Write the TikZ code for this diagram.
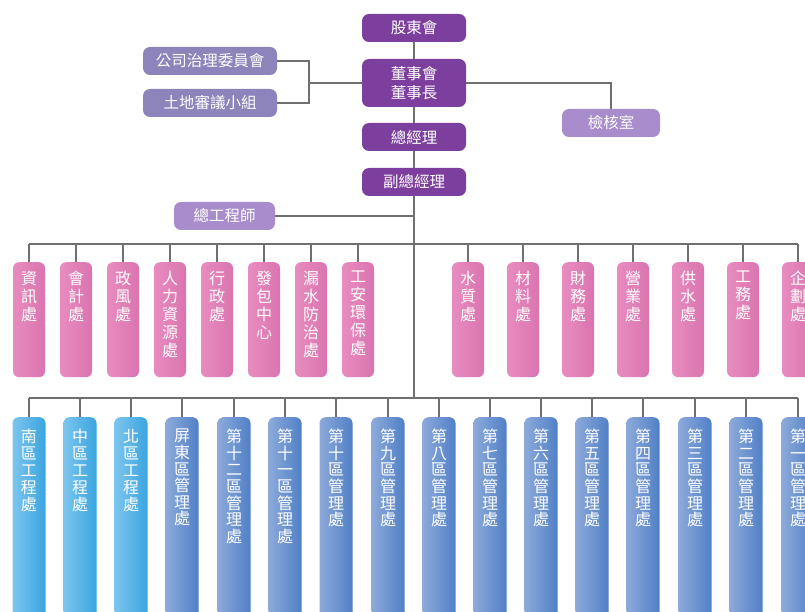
\documentclass[tikz,border=0pt]{standalone}
\usepackage{fontspec}
\newfontfamily\cjk{Noto Sans CJK TC}
\definecolor{linegray}{HTML}{707070}
\definecolor{darkpurple}{HTML}{7D3F9E}
\definecolor{lavgrey}{HTML}{8C84BA}
\definecolor{lightpurple}{HTML}{A88CCB}
\definecolor{pinkL}{HTML}{E88CC0}
\definecolor{pinkM}{HTML}{F0A2CD}
\definecolor{pinkR}{HTML}{DA74AF}
\definecolor{cyanL}{HTML}{7CC6EF}
\definecolor{cyanR}{HTML}{3AA5DF}
\definecolor{steelL}{HTML}{8DAADB}
\definecolor{steelR}{HTML}{5080C6}
\newcommand\pinktxt[1]{\parbox[c][115pt][t]{32pt}{\centering\vspace*{9pt}#1}}
\newcommand\bluetxt[1]{\parbox[c][230pt][t]{33pt}{\centering\vspace*{12pt}#1}}
\begin{document}
\begin{tikzpicture}[x=1pt,y=-1pt,
  conn/.style={draw=linegray, line width=1.3pt},
  topbox/.style={rectangle, rounded corners=7pt, inner sep=0pt, text=white,
    minimum height=28pt, align=center, font=\cjk\fontsize{15.5}{19}\selectfont},
  pinkbox/.style={rectangle, rounded corners=6pt, inner sep=0pt, anchor=north,
    left color=pinkL, middle color=pinkM, right color=pinkR, text=white,
    font=\cjk\fontsize{16}{18}\selectfont},
  cyanbox/.style={rectangle, rounded corners=6pt, inner sep=0pt, anchor=north,
    left color=cyanL, right color=cyanR, text=white,
    font=\cjk\fontsize{16}{17}\selectfont},
  steelbox/.style={rectangle, rounded corners=6pt, inner sep=0pt, anchor=north,
    left color=steelL, right color=steelR, text=white,
    font=\cjk\fontsize{16}{16.6}\selectfont}
]
\useasboundingbox (0,0) rectangle (805,612);
\clip (0,0) rectangle (805,612);
\fill[white] (0,0) rectangle (805,612);

% top level
\node[topbox, fill=darkpurple, minimum width=104pt] (gd) at (414,28) {股東會};
\node[topbox, fill=darkpurple, minimum width=104pt, minimum height=48pt] (bd) at (414,83) {董事會\\董事長};
\node[topbox, fill=darkpurple, minimum width=104pt] (gm) at (414,137) {總經理};
\node[topbox, fill=darkpurple, minimum width=104pt] (vgm) at (414,182) {副總經理};
\node[topbox, fill=lavgrey, minimum width=134pt] (cg) at (210,61) {公司治理委員會};
\node[topbox, fill=lavgrey, minimum width=134pt] (ld) at (210,103) {土地審議小組};
\node[topbox, fill=lightpurple, minimum width=98pt] (ck) at (611,123) {檢核室};
\node[topbox, fill=lightpurple, minimum width=101pt] (ce) at (224.5,216) {總工程師};

\coordinate (bj) at (309,83);
\coordinate (ceJ) at (414,216);
\coordinate (pbL) at (29,244);
\coordinate (pbR) at (798,244);
\coordinate (bbL) at (29,398);
\coordinate (bbR) at (798,398);
\coordinate (trunk) at (414,398);

% pink row
\node[pinkbox, minimum width=32pt, minimum height=115pt] (p1) at (29,262) {\pinktxt{資\\訊\\處}};
\node[pinkbox, minimum width=32pt, minimum height=115pt] (p2) at (76,262) {\pinktxt{會\\計\\處}};
\node[pinkbox, minimum width=32pt, minimum height=115pt] (p3) at (123,262) {\pinktxt{政\\風\\處}};
\node[pinkbox, minimum width=32pt, minimum height=115pt] (p4) at (170,262) {\pinktxt{人\\力\\資\\源\\處}};
\node[pinkbox, minimum width=32pt, minimum height=115pt] (p5) at (217,262) {\pinktxt{行\\政\\處}};
\node[pinkbox, minimum width=32pt, minimum height=115pt] (p6) at (264,262) {\pinktxt{發\\包\\中\\心}};
\node[pinkbox, minimum width=32pt, minimum height=115pt] (p7) at (311,262) {\pinktxt{漏\\水\\防\\治\\處}};
\node[pinkbox, minimum width=32pt, minimum height=115pt] (p8) at (358,262) {\pinktxt{工\\安\\環\\保\\處}};
\node[pinkbox, minimum width=32pt, minimum height=115pt] (p9) at (468,262) {\pinktxt{水\\質\\處}};
\node[pinkbox, minimum width=32pt, minimum height=115pt] (p10) at (523,262) {\pinktxt{材\\料\\處}};
\node[pinkbox, minimum width=32pt, minimum height=115pt] (p11) at (578,262) {\pinktxt{財\\務\\處}};
\node[pinkbox, minimum width=32pt, minimum height=115pt] (p12) at (633,262) {\pinktxt{營\\業\\處}};
\node[pinkbox, minimum width=32pt, minimum height=115pt] (p13) at (688,262) {\pinktxt{供\\水\\處}};
\node[pinkbox, minimum width=32pt, minimum height=115pt] (p14) at (743,262) {\pinktxt{工\\務\\處}};
\node[pinkbox, minimum width=32pt, minimum height=115pt] (p15) at (798,262) {\pinktxt{企\\劃\\處}};

% blue row
\node[cyanbox, minimum width=33pt, minimum height=230pt] (b1) at (29,417) {\bluetxt{南\\區\\工\\程\\處}};
\node[cyanbox, minimum width=33pt, minimum height=230pt] (b2) at (80,417) {\bluetxt{中\\區\\工\\程\\處}};
\node[cyanbox, minimum width=33pt, minimum height=230pt] (b3) at (131,417) {\bluetxt{北\\區\\工\\程\\處}};
\node[steelbox, minimum width=33pt, minimum height=230pt] (b4) at (182,417) {\bluetxt{屏\\東\\區\\管\\理\\處}};
\node[steelbox, minimum width=33pt, minimum height=230pt] (b5) at (234,417) {\bluetxt{第\\十\\二\\區\\管\\理\\處}};
\node[steelbox, minimum width=33pt, minimum height=230pt] (b6) at (285,417) {\bluetxt{第\\十\\一\\區\\管\\理\\處}};
\node[steelbox, minimum width=33pt, minimum height=230pt] (b7) at (336,417) {\bluetxt{第\\十\\區\\管\\理\\處}};
\node[steelbox, minimum width=33pt, minimum height=230pt] (b8) at (388,417) {\bluetxt{第\\九\\區\\管\\理\\處}};
\node[steelbox, minimum width=33pt, minimum height=230pt] (b9) at (439,417) {\bluetxt{第\\八\\區\\管\\理\\處}};
\node[steelbox, minimum width=33pt, minimum height=230pt] (b10) at (490,417) {\bluetxt{第\\七\\區\\管\\理\\處}};
\node[steelbox, minimum width=33pt, minimum height=230pt] (b11) at (541,417) {\bluetxt{第\\六\\區\\管\\理\\處}};
\node[steelbox, minimum width=33pt, minimum height=230pt] (b12) at (592,417) {\bluetxt{第\\五\\區\\管\\理\\處}};
\node[steelbox, minimum width=33pt, minimum height=230pt] (b13) at (643,417) {\bluetxt{第\\四\\區\\管\\理\\處}};
\node[steelbox, minimum width=33pt, minimum height=230pt] (b14) at (695,417) {\bluetxt{第\\三\\區\\管\\理\\處}};
\node[steelbox, minimum width=33pt, minimum height=230pt] (b15) at (746,417) {\bluetxt{第\\二\\區\\管\\理\\處}};
\node[steelbox, minimum width=33pt, minimum height=230pt] (b16) at (798,417) {\bluetxt{第\\一\\區\\管\\理\\處}};

% connectors
\draw[conn] (gd.south) -- (bd.north);
\draw[conn] (bd.south) -- (gm.north);
\draw[conn] (gm.south) -- (vgm.north);
\draw[conn] (vgm.south) -- (trunk);
\draw[conn] (cg.east) -| (bj);
\draw[conn] (ld.east) -| (bj);
\draw[conn] (bj) -- (bd.west);
\draw[conn] (bd.east) -| (ck.north);
\draw[conn] (ce.east) -- (ceJ);
\draw[conn] (pbL) -- (pbR);
\draw[conn] (bbL) -- (bbR);
\foreach \n in {p1,p2,p3,p4,p5,p6,p7,p8,p9,p10,p11,p12,p13,p14,p15}
  \draw[conn] (\n.north) -- (\n.north |- pbL);
\foreach \n in {b1,b2,b3,b4,b5,b6,b7,b8,b9,b10,b11,b12,b13,b14,b15,b16}
  \draw[conn] (\n.north) -- (\n.north |- bbL);
\end{tikzpicture}
\end{document}
